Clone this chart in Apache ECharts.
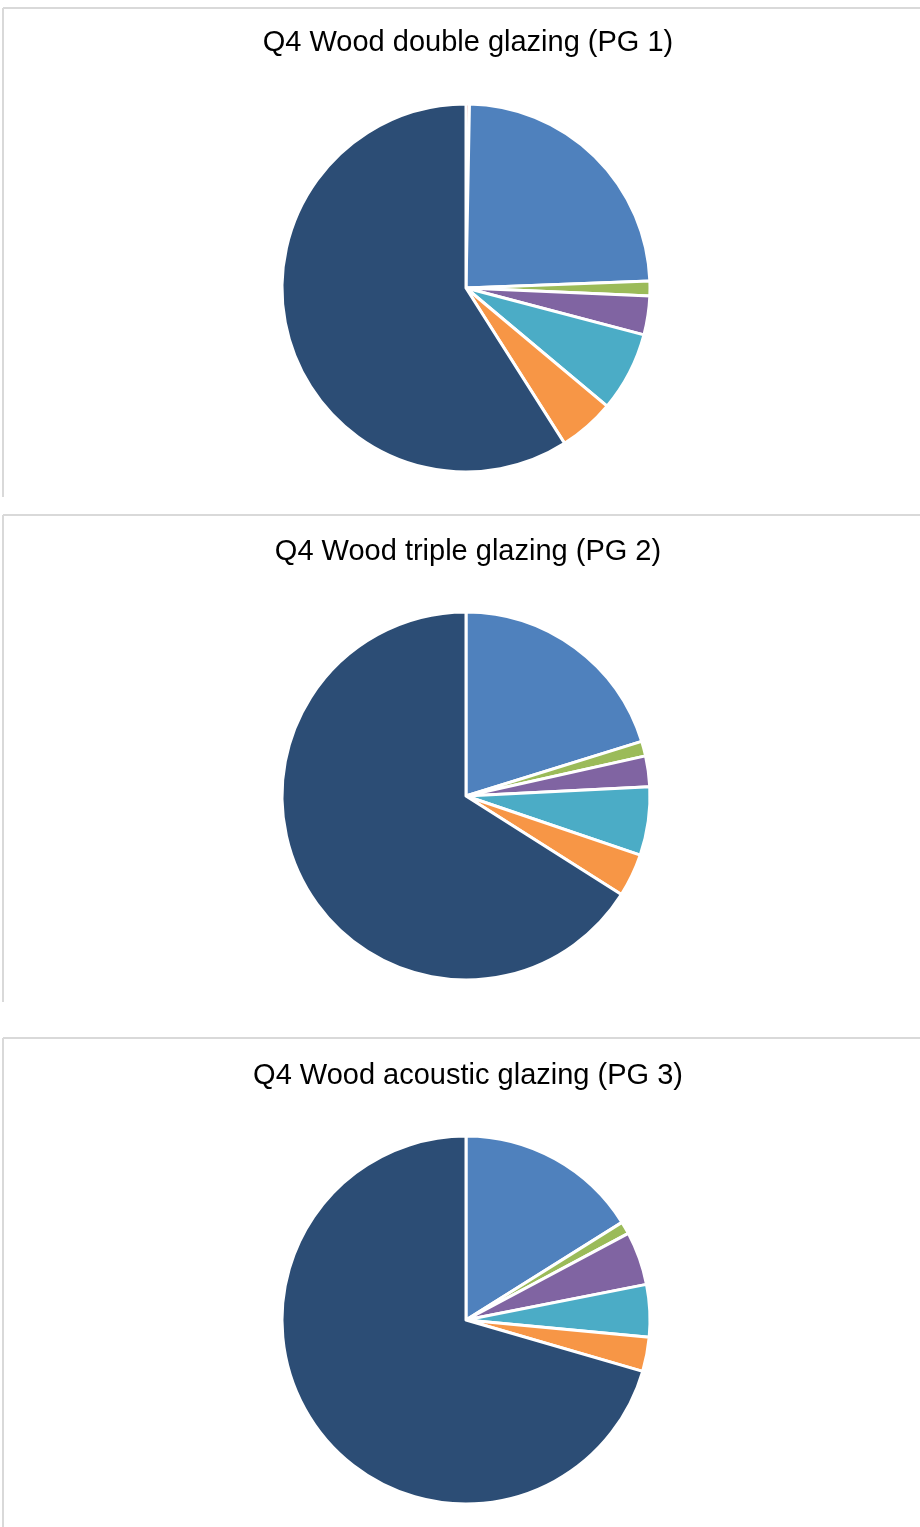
<!DOCTYPE html>
<html>
<head>
<meta charset="utf-8">
<script src="https://cdn.jsdelivr.net/npm/echarts@6/dist/echarts.min.js"></script>
<style>
  html, body { margin: 0; padding: 0; background: #fff; }
  #chart { width: 920px; height: 1527px; }
</style>
</head>
<body>
<div id="chart"></div>
<script>
// slice names (no legend shown in the original)
const categories = ['Category 1', 'Category 2', 'Category 3', 'Category 4', 'Category 5', 'Category 6', 'Category 7'];
const colors = ['#C0504D', '#4F81BD', '#9BBB59', '#8064A2', '#4BACC6', '#F79646', '#2C4D75'];

const titles = [
  'Q4 Wood double glazing (PG 1)',
  'Q4 Wood triple glazing (PG 2)',
  'Q4 Wood acoustic glazing (PG 3)'
];

// shares in %, clockwise from 12 o'clock
const pg1Values = [0.3, 24.1, 1.3, 3.4, 7.0, 4.9, 59.0];
const pg2Values = [0, 20.2, 1.3, 2.7, 6.0, 3.8, 66.0];
const pg3Values = [0, 16.1, 1.1, 4.7, 4.6, 3.0, 70.5];

const panels = [
  { top: 8, bottom: 497, titleY: 23, cy: 288, values: pg1Values },
  { top: 515, bottom: 1002, titleY: 532, cy: 796, values: pg2Values },
  { top: 1038, bottom: 1527, titleY: 1056, cy: 1320, values: pg3Values }
];

const chart = echarts.init(document.getElementById('chart'));

const graphic = [];
panels.forEach(p => {
  graphic.push({
    type: 'line', silent: true,
    shape: { x1: 3, y1: p.top, x2: 920, y2: p.top },
    style: { stroke: '#d9d9d9', lineWidth: 2 }
  });
  graphic.push({
    type: 'line', silent: true,
    shape: { x1: 3, y1: p.top, x2: 3, y2: p.bottom },
    style: { stroke: '#d9d9d9', lineWidth: 2 }
  });
});

chart.setOption({
  backgroundColor: '#fff',
  animation: false,
  title: panels.map((p, i) => ({
    text: titles[i],
    left: 463,
    textAlign: 'center',
    top: p.titleY,
    textStyle: {
      fontFamily: 'Liberation Sans, Arial, sans-serif',
      fontSize: 29,
      fontWeight: 'normal',
      color: '#000'
    }
  })),
  graphic: graphic,
  series: panels.map(p => ({
    type: 'pie',
    center: [466, p.cy],
    radius: 184,
    startAngle: 90,
    clockwise: true,
    silent: true,
    label: { show: false },
    labelLine: { show: false },
    itemStyle: { borderColor: '#fff', borderWidth: 3 },
    data: categories.map((c, j) => ({
      name: c,
      value: p.values[j],
      itemStyle: { color: colors[j] }
    }))
  }))
});
</script>
</body>
</html>
